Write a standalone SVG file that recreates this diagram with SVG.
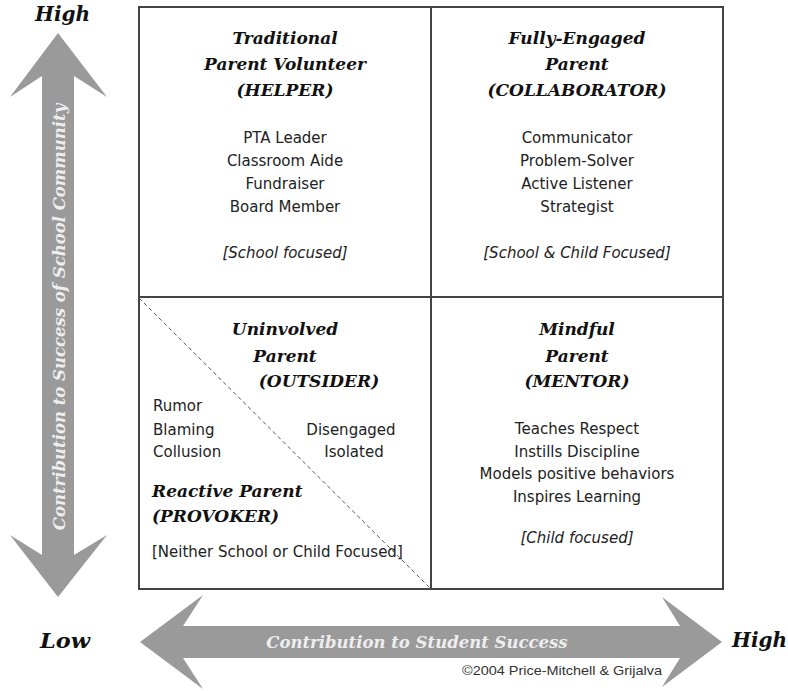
<svg xmlns="http://www.w3.org/2000/svg" width="788" height="691" viewBox="0 0 788 691">
<style>
.hd{font-family:"DejaVu Serif","Liberation Serif",serif;font-weight:bold;font-style:italic;font-size:17px;fill:#111;text-anchor:middle}
.it{font-family:"DejaVu Sans","Liberation Sans",sans-serif;font-size:15px;fill:#222;text-anchor:middle}
.fc{font-family:"DejaVu Sans","Liberation Sans",sans-serif;font-size:15px;font-style:italic;fill:#222;text-anchor:middle}
.ax{font-family:"DejaVu Serif","Liberation Serif",serif;font-weight:bold;font-style:italic;font-size:20px;fill:#111}
.ar{fill:#9a9a9a}
.at{font-family:"DejaVu Serif","Liberation Serif",serif;font-weight:bold;font-style:italic;font-size:16.5px;fill:#eeeeee;text-anchor:middle}
.box{fill:#fff;stroke:#444;stroke-width:2}
</style>
<rect width="788" height="691" fill="#fff"/>
<g id="axes">
<polygon class="ar" points="58,33 107,97 74,76 74,555 107,535 58,597 10,535 42,555 42,76 10,97"/>
<text class="at" transform="translate(65,317) rotate(-90)">Contribution to Success of School Community</text>
<polygon class="ar" points="140,642 203,595 183,626 680,626 662,597 722,642 662,687 680,658 183,658 203,689"/>
<text class="at" x="417" y="648">Contribution to Student Success</text>
<text class="ax" x="35" y="21">High</text>
<text class="ax" x="40" y="648" textLength="50" lengthAdjust="spacingAndGlyphs">Low</text>
<text class="ax" x="732" y="647">High</text>
<text x="462" y="675" font-family="Liberation Sans Narrow, Liberation Sans, sans-serif" font-size="13" fill="#333" textLength="200" lengthAdjust="spacingAndGlyphs">©2004 Price-Mitchell &amp; Grijalva</text>
</g>
<g id="grid">
<rect class="box" x="139" y="7" width="584" height="582"/>
<line x1="431" y1="7" x2="431" y2="589" stroke="#444" stroke-width="2"/>
<line x1="139" y1="297" x2="723" y2="297" stroke="#444" stroke-width="2"/>
</g>
<g id="connectors">
<line x1="139" y1="298" x2="430" y2="588" stroke="#555" stroke-width="1" stroke-dasharray="4,3"/>
</g>
<g id="helper">
<text class="hd" x="285" y="44">Traditional</text>
<text class="hd" x="285" y="70">Parent Volunteer</text>
<text class="hd" x="285" y="96">(HELPER)</text>
<text class="it" x="285" y="143">PTA Leader</text>
<text class="it" x="285" y="166">Classroom Aide</text>
<text class="it" x="285" y="189">Fundraiser</text>
<text class="it" x="285" y="212">Board Member</text>
<text class="fc" x="285" y="258">[School focused]</text>
</g>
<g id="collaborator">
<text class="hd" x="577" y="44">Fully-Engaged</text>
<text class="hd" x="577" y="70">Parent</text>
<text class="hd" x="577" y="96">(COLLABORATOR)</text>
<text class="it" x="577" y="143">Communicator</text>
<text class="it" x="577" y="166">Problem-Solver</text>
<text class="it" x="577" y="189">Active Listener</text>
<text class="it" x="577" y="212">Strategist</text>
<text class="fc" x="577" y="258">[School &amp; Child Focused]</text>
</g>
<g id="outsider">
<text class="hd" x="285" y="335">Uninvolved</text>
<text class="hd" x="285" y="362">Parent</text>
<text class="hd" x="319" y="387">(OUTSIDER)</text>
<text class="it" x="351" y="435">Disengaged</text>
<text class="it" x="354" y="457">Isolated</text>
</g>
<g id="provoker">
<text class="it" x="153" y="411" style="text-anchor:start">Rumor</text>
<text class="it" x="153" y="435" style="text-anchor:start">Blaming</text>
<text class="it" x="153" y="457" style="text-anchor:start">Collusion</text>
<text class="hd" x="152" y="497" style="text-anchor:start">Reactive Parent</text>
<text class="hd" x="152" y="522" style="text-anchor:start">(PROVOKER)</text>
<text class="it" x="152" y="557" style="text-anchor:start">[Neither School or Child Focused]</text>
</g>
<g id="mentor">
<text class="hd" x="577" y="335">Mindful</text>
<text class="hd" x="577" y="362">Parent</text>
<text class="hd" x="577" y="387">(MENTOR)</text>
<text class="it" x="577" y="434">Teaches Respect</text>
<text class="it" x="577" y="457">Instills Discipline</text>
<text class="it" x="577" y="479">Models positive behaviors</text>
<text class="it" x="577" y="502">Inspires Learning</text>
<text class="fc" x="577" y="543">[Child focused]</text>
</g>
</svg>
